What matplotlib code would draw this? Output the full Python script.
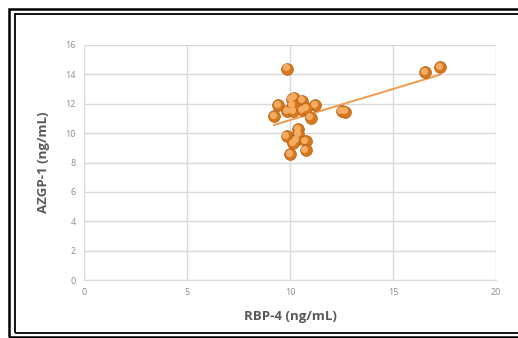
import numpy as np
import matplotlib.pyplot as plt
from matplotlib.patches import Rectangle
from matplotlib.transforms import offset_copy

# RBP-4 vs AZGP-1 (ng/mL)
rbp4 = [9.85, 9.43, 10.08, 10.2, 10.6, 11.23, 9.22, 9.87, 10.16, 10.13, 10.61, 10.8,
        11.0, 9.84, 10.4, 10.4, 10.29, 10.16, 10.76, 10.76, 10.0, 12.5, 12.67,
        16.57, 17.28]
azgp1 = [14.4, 11.9, 12.29, 12.4, 12.2, 11.9, 11.16, 11.5, 11.5, 11.9, 11.56, 11.68,
         11.04, 9.8, 10.25, 9.93, 9.52, 9.3, 9.46, 8.84, 8.57, 11.5, 11.45,
         14.13, 14.47]
xticks = [0, 5, 10, 15, 20]
yticks = [0, 2, 4, 6, 8, 10, 12, 14, 16]

plt.rcParams['font.family'] = ['Open Sans', 'DejaVu Sans']

fig = plt.figure(figsize=(5.18, 3.38), dpi=100)
ax = fig.add_axes([84/518, 58/338, 412/518, 235/338])

x = np.array(rbp4)
y = np.array(azgp1)

# linear trendline, as excel does
k, b = np.polyfit(x, y, 1)
xl = np.array([x.min(), x.max()])
ax.plot(xl, k*xl + b, color='#F29A4E', lw=1.4, zorder=2)

# fake 3d balls: dark base + lighter offset highlight
ax.scatter(x, y, s=72, color='#D8781E', edgecolor='#B0600F', lw=0.5, zorder=3)
hl = offset_copy(ax.transData, fig=fig, x=-1.0, y=1.0, units='points')
ax.scatter(x, y, s=26, color='#F4AC62', lw=0, zorder=4, transform=hl)

ax.set_xlim(0, 20)
ax.set_ylim(0, 16)
ax.set_xticks(xticks)
ax.set_yticks(yticks)
ax.grid(True, color='#D9D9D9', lw=1)
ax.set_axisbelow(True)
for s in ax.spines.values():
    s.set_visible(False)
ax.spines['bottom'].set_visible(True)
ax.spines['bottom'].set_color('#D9D9D9')
ax.tick_params(length=0, labelsize=6.5, labelcolor='#8C8C8C', pad=6)
ax.set_xlabel('RBP-4 (ng/mL)', fontsize=9.5, fontweight='bold', color='#595959', labelpad=9)
ax.set_ylabel('AZGP-1 (ng/mL)', fontsize=9.5, fontweight='bold', color='#595959', labelpad=11)

# double black frame round the chart
fig.patches.append(Rectangle((9/518, 1 - 337/338), 520/518, 328/338, transform=fig.transFigure,
                             fill=False, edgecolor='black', lw=1.8))
fig.patches.append(Rectangle((14.5/518, 1 - 333/338), 520/518, 319/338, transform=fig.transFigure,
                             fill=False, edgecolor='black', lw=1.3))

fig.savefig('out.png', dpi=100)
